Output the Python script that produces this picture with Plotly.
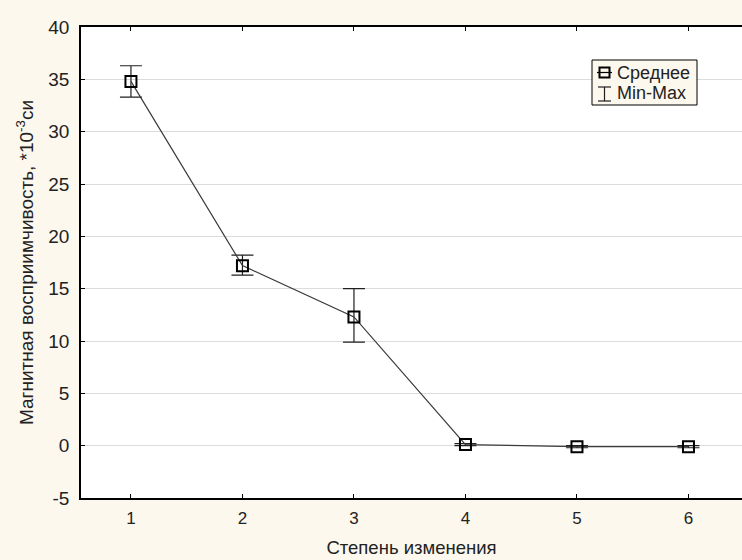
import plotly.graph_objects as go

stages = [1, 2, 3, 4, 5, 6]
mean_vals = [34.8, 17.2, 12.3, 0.1, -0.1, -0.1]
min_vals = [33.3, 16.3, 9.9, 0.0, -0.2, -0.2]
max_vals = [36.3, 18.2, 15.0, 0.2, 0.0, 0.0]
x_ticks = [1, 2, 3, 4, 5, 6]
y_ticks = [-5, 0, 5, 10, 15, 20, 25, 30, 35, 40]
y_tick_text = ["-5", "0", "5", "10", "15", "20", "25", "30", "35", "40"]
legend_labels = ["Среднее", "Min-Max"]

err_plus = [mx - m for mx, m in zip(max_vals, mean_vals)]
err_minus = [m - mn for m, mn in zip(mean_vals, min_vals)]

font_family = "Liberation Sans, Arial, sans-serif"
bg = "#fdf8ee"
W, H = 742, 560
ML, MR, MT, MB = 81, 0, 27, 62
PW, PH = W - ML - MR, H - MT - MB


def px(x):
    return (x - ML) / PW


def py(y):
    return (H - MB - y) / PH


fig = go.Figure()
fig.add_trace(go.Scatter(
    x=stages, y=mean_vals, mode="lines+markers", name=legend_labels[0],
    line=dict(color="#3a3a3a", width=1.2),
    marker=dict(symbol="square-open", size=11, color="black", line=dict(width=2, color="black")),
    error_y=dict(type="data", symmetric=False, array=err_plus, arrayminus=err_minus,
                 color="#202020", thickness=1.2, width=11),
    showlegend=False,
))

# Legend (drawn as a box with symbols and texts)
shapes = [
    dict(type="rect", xref="paper", yref="paper", x0=px(592), x1=px(697), y0=py(105), y1=py(60),
         fillcolor=bg, line=dict(color="black", width=1), layer="above"),
    dict(type="line", xref="paper", yref="paper", x0=px(597), x1=px(612), y0=py(72.5), y1=py(72.5),
         line=dict(color="black", width=1.2), layer="above"),
    dict(type="rect", xref="paper", yref="paper", x0=px(599.5), x1=px(609.5), y0=py(77.5), y1=py(67.5),
         line=dict(color="black", width=2), layer="above"),
    dict(type="line", xref="paper", yref="paper", x0=px(604.5), x1=px(604.5), y0=py(101), y1=py(87),
         line=dict(color="#202020", width=1.2), layer="above"),
    dict(type="line", xref="paper", yref="paper", x0=px(598), x1=px(611), y0=py(87), y1=py(87),
         line=dict(color="#202020", width=1.2), layer="above"),
    dict(type="line", xref="paper", yref="paper", x0=px(598), x1=px(611), y0=py(101), y1=py(101),
         line=dict(color="#202020", width=1.2), layer="above"),
]
annotations = [
    dict(text=legend_labels[0], xref="paper", yref="paper", x=px(615), y=py(72.5),
         xanchor="left", yanchor="middle", showarrow=False, font=dict(size=18, color="#222")),
    dict(text=legend_labels[1], xref="paper", yref="paper", x=px(615), y=py(93),
         xanchor="left", yanchor="middle", showarrow=False, font=dict(size=18, color="#222")),
]

fig.update_layout(
    width=W, height=H,
    paper_bgcolor=bg, plot_bgcolor="white",
    margin=dict(l=ML, r=MR, t=MT, b=MB),
    font=dict(family=font_family, size=17, color="#222"),
    showlegend=False,
    shapes=shapes,
    annotations=annotations,
    xaxis=dict(range=[0.552, 6.48], tickvals=x_ticks, ticks="inside", ticklen=4,
               tickcolor="black", showline=True, linecolor="black", linewidth=1.5,
               mirror="ticks", showgrid=False, zeroline=False, automargin=False,
               tickfont=dict(size=17), ticklabelstandoff=4,
               title=dict(text="Степень изменения", font=dict(size=18.5), standoff=14)),
    yaxis=dict(range=[-5, 40], tickvals=y_ticks, ticktext=y_tick_text, ticks="inside", ticklen=4,
               tickcolor="black", showline=True, linecolor="black", linewidth=1.5,
               showgrid=True, gridcolor="#dcdcdc", gridwidth=1, zeroline=False, automargin=False,
               tickfont=dict(size=19), ticklabelstandoff=6,
               title=dict(text="Магнитная восприимчивость, *10<sup>-3</sup>си", font=dict(size=19), standoff=10)),
)

fig.write_html("out.html", config={"displayModeBar": False},
               post_script="document.body.style.margin='0';document.body.style.overflow='hidden';")
